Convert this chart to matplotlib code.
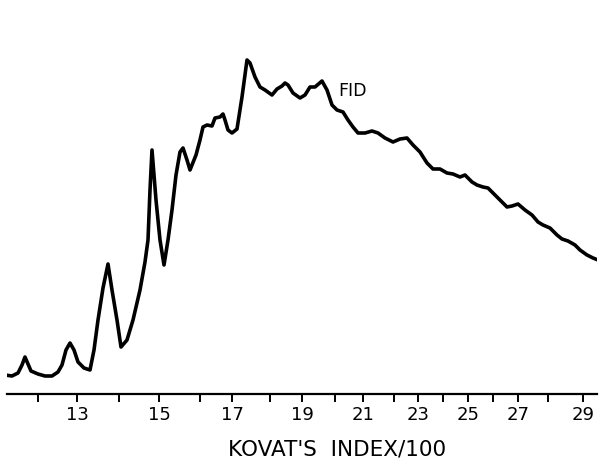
"""Gas chromatogram (FID trace) against Kovat's retention index."""

import matplotlib
matplotlib.use("Agg")
import matplotlib.pyplot as plt

# chart position (mm along the recorder trace) and detector response
chart_pos = [5, 12, 18, 22, 25, 28, 31, 38, 45, 52, 58, 62, 66, 70, 74, 78, 84, 90,
             94, 98, 103, 108, 112, 117, 121, 127, 133, 140, 145, 148, 150, 152, 156,
             160, 164, 168, 172, 176, 180, 183, 187, 190, 196, 200, 203, 207, 212, 215,
             220, 223, 225, 228, 232, 237, 242, 247, 250, 255, 260, 265, 272, 277, 282,
             285, 288, 293, 300, 305, 310, 315, 322, 327, 332, 337, 343, 348, 353, 358,
             365, 372, 378, 385, 393, 400, 407, 413, 420, 427, 433, 440, 447, 453, 460,
             465, 472, 477, 483, 488, 495, 502, 507, 512, 518, 525, 532, 538, 543, 550,
             557, 562, 568, 575, 580, 587, 593, 598]
response = [19, 18, 21, 29, 37, 30, 23, 20, 18, 18, 22, 29, 44, 51, 44, 32, 26, 24,
            44, 74, 106, 130, 104, 74, 47, 54, 74, 104, 132, 154, 204, 244, 194,
            154, 129, 154, 184, 219, 242, 246, 234, 224, 239, 254, 267, 269, 268, 276,
            277, 280, 274, 264, 261, 265, 297, 334, 331, 317, 307, 304, 299, 305, 308,
            311, 309, 301, 296, 299, 307, 307, 313, 304, 289, 284, 282, 274, 267, 261,
            261, 263, 261, 256, 252, 255, 256, 249, 242, 231, 225, 225, 221, 220, 217,
            219, 212, 209, 207, 206, 199, 192, 187, 188, 190, 184, 179, 172, 169, 166,
            159, 155, 153, 149, 144, 139, 136, 134]

# index axis is non-linear on the chart paper
major_pos = [77, 159, 232, 302, 363, 418, 468, 518, 583]
major_labels = ["13", "15", "17", "19", "21", "23", "25", "27", "29"]
minor_pos = [38, 119, 200, 270, 335, 394, 443, 493, 548]

W, H = 613, 466
fig = plt.figure(figsize=(W / 100, H / 100), dpi=100)
ax = fig.add_axes([7 / W, (H - 394) / H, 590 / W, 394 / H])

ax.plot(chart_pos, response, color="black", linewidth=2.6,
        solid_joinstyle="round", solid_capstyle="round")

ax.set_xlim(7, 597)
ax.set_ylim(0, 394)
for side in ("top", "left", "right"):
    ax.spines[side].set_visible(False)
ax.spines["bottom"].set_linewidth(1.6)
ax.set_yticks([])

ax.set_xticks(major_pos)
ax.set_xticklabels(major_labels, fontsize=13)
ax.set_xticks(minor_pos, minor=True)
ax.tick_params(axis="x", which="both", direction="out", length=6, width=1.4, pad=3)

ax.set_xlabel("KOVAT'S  INDEX/100", fontsize=15.5)
ax.xaxis.set_label_coords(0.56, -0.115)
ax.text(338, 303, "FID", fontsize=12.5, va="center", ha="left")

fig.savefig("out.png", dpi=100)
